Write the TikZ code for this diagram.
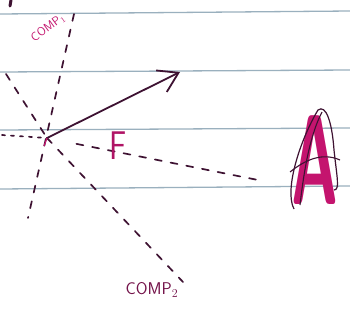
\documentclass[tikz,border=0pt]{standalone}
\usepackage{xcolor}
\usetikzlibrary{arrows.meta}
\definecolor{ink}{HTML}{3E1232}
\definecolor{pen}{HTML}{C4146E}
\definecolor{rule}{HTML}{9AB0BE}
\tikzset{
  ruling/.style={rule, line width=1.3pt},
  dashink/.style={ink, line width=1.7pt, line cap=round, dash pattern=on 7pt off 9pt},
  inkline/.style={ink, line width=1.8pt, line cap=round},
  handtext/.style={text=pen, inner sep=0pt, font=\sffamily}
}
\begin{document}
\begin{tikzpicture}[x=1pt,y=-1pt]
    \useasboundingbox (0,0) rectangle (350,327);
    \fill[white] (0,0) rectangle (350,327);

    \draw[ruling] (0,14) -- (350,11);
    \draw[ruling] (0,72) -- (350,70);
    \draw[ruling] (0,130) -- (350,128);
    \draw[ruling] (0,189) -- (350,186);

    \draw[ink, line width=3pt, line cap=round] (11,0) -- (10,6);

    \coordinate (O) at (47,138);
    \coordinate (c1top) at (74,14);
    \coordinate (c1bot) at (28,218);
    \coordinate (c2end) at (183,282);
    \coordinate (upl) at (6,74);
    \coordinate (lft) at (2,135);
    \coordinate (toA) at (258,180);
    \coordinate (tip) at (180,72);

    \draw[dashink] (c1top) -- (c1bot);
    \draw[dashink] (O) -- (c2end);
    \draw[dashink] (upl) -- (O);
    \draw[dashink, dash pattern=on 3pt off 6pt] (lft) -- (O);
    \draw[dashink, shorten <=30pt] (O) -- (toA);

    \draw[inkline, -{Straight Barb[length=19pt,width=24pt]}] (O) -- (tip);
    \draw[pen, line width=1.2pt] (O) -- ++(-3,8);

    \node[handtext, text=pen!85!ink, xscale=0.8, font=\fontsize{40}{40}\selectfont\sffamily] (F) at (118,146) {F};
    \node[handtext, rotate=36, font=\fontsize{12}{12}\selectfont\sffamily] (comp1) at (48,28) {COMP$_1$};
    \node[handtext, text=ink!60!pen, font=\fontsize{17}{17}\selectfont\sffamily] (comp2) at (152,290) {COMP$_2$};
    \node[handtext, xscale=0.5, font=\fontsize{128}{128}\selectfont\sffamily\bfseries] (A) at (315,160) {A};

    \draw[ink, line width=1.2pt] (294,209) .. controls (284,190) and (300,140) .. (318,110)
        .. controls (326,104) and (332,122) .. (334,150) .. controls (337,178) and (340,190) .. (334,190);
    \draw[ink, line width=1.1pt] (300,205) .. controls (304,170) and (310,135) .. (322,112);
    \draw[ink, line width=1.1pt] (290,172) .. controls (305,160) and (322,152) .. (340,160);
\end{tikzpicture}
\end{document}
